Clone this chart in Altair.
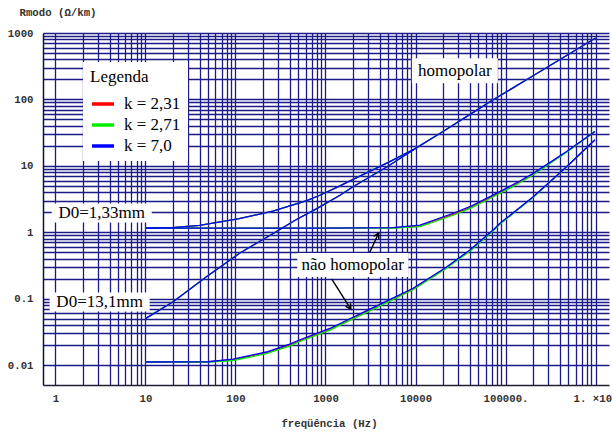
import altair as alt
import pandas as pd

# ---- series: frequency (Hz) and mode resistance (ohm/km) ----
K_LABELS = ["k = 2,31", "k = 2,71", "k = 7,0"]
K_COLORS = ["#ff0000", "#00f000", "#0000ff"]

# homopolar mode, D0 = 1,33 mm (the three k values coincide)
hom133_f = [10, 20, 40, 110, 260, 620, 865, 1320, 2000, 4800, 9700, 18600, 52000, 67000, 186000, 1000000]
hom133_r = [1.15, 1.17, 1.27, 1.6, 2.07, 3.0, 3.6, 4.7, 6.2, 11.0, 17.8, 30.7, 74, 92, 212, 841]

# homopolar mode, D0 = 13,1 mm (joins the curve above near 10 kHz)
hom131_f = [10, 20.3, 47.6, 111, 260, 455, 800, 1450, 2000, 4800, 9700]
hom131_r = [0.05, 0.0895, 0.213, 0.481, 0.95, 1.5, 2.27, 3.6, 4.8, 9.6, 17.8]

# non-homopolar mode, D0 = 1,33 mm
nh133_f = [10, 100, 1000, 5600, 11200, 26200, 40100, 61500, 94000, 144000, 203000, 476000, 982000]
nh133_r_231 = [1.15, 1.15, 1.15, 1.16, 1.24, 1.86, 2.33, 3.12, 4.18, 5.7, 7.5, 16.1, 32.6]
nh133_r_271 = [1.15, 1.15, 1.15, 1.15, 1.21, 1.80, 2.26, 3.03, 4.06, 5.55, 7.35, 16.0, 33.0]
nh133_r_70 = [1.15, 1.15, 1.15, 1.17, 1.28, 1.93, 2.42, 3.24, 4.33, 5.9, 7.7, 16.4, 32.8]

# non-homopolar mode, D0 = 13,1 mm
nh131_f = [10, 50, 94, 220, 400, 520, 1117, 1940, 2620, 9400, 22100, 40100, 72800, 86500, 203000, 476000, 982000]
nh131_r_231 = [0.0111, 0.0112, 0.0120, 0.0152, 0.0199, 0.0232, 0.0344, 0.0495, 0.060, 0.139, 0.292, 0.527, 1.06, 1.33, 3.38, 9.6, 24.5]
nh131_r_271 = [0.0111, 0.0111, 0.0117, 0.0148, 0.0193, 0.0226, 0.0335, 0.0482, 0.0585, 0.136, 0.286, 0.518, 1.05, 1.32, 3.36, 9.6, 24.6]
nh131_r_70 = [0.0111, 0.0112, 0.0123, 0.0157, 0.0206, 0.024, 0.0355, 0.051, 0.062, 0.143, 0.30, 0.54, 1.08, 1.36, 3.43, 9.7, 24.6]

series = {
    K_LABELS[0]: [("hom133", hom133_f, hom133_r), ("hom131", hom131_f, hom131_r),
                  ("nh133", nh133_f, nh133_r_231), ("nh131", nh131_f, nh131_r_231)],
    K_LABELS[1]: [("hom133", hom133_f, hom133_r), ("hom131", hom131_f, hom131_r),
                  ("nh133", nh133_f, nh133_r_271), ("nh131", nh131_f, nh131_r_271)],
    K_LABELS[2]: [("hom133", hom133_f, hom133_r), ("hom131", hom131_f, hom131_r),
                  ("nh133", nh133_f, nh133_r_70), ("nh131", nh131_f, nh131_r_70)],
}

rows = []
for k, curves in series.items():
    for name, fs, rs in curves:
        for i, (f, r) in enumerate(zip(fs, rs)):
            rows.append({"k": k, "curve": name, "seq": i, "f": f, "r": r})
df = pd.DataFrame(rows)

# ---- annotations ----
labels_df = pd.DataFrame([
    {"txt": "homopolar", "f": 27350, "r": 270, "box": "wide"},
    {"txt": "D0=1,33mm", "f": 3.27, "r": 1.95, "box": "d0"},
    {"txt": "D0=13,1mm", "f": 3.1, "r": 0.0886, "box": "d0"},
    {"txt": "não homopolar", "f": 2010, "r": 0.32, "box": "nh"},
])
arrows_df = pd.DataFrame([
    {"id": 1, "seq": 0, "f": 3105, "r": 0.50},
    {"id": 1, "seq": 1, "f": 3890, "r": 0.97},
    {"id": 2, "seq": 0, "f": 1175, "r": 0.197},
    {"id": 2, "seq": 1, "f": 1910, "r": 0.0694},
])
heads_df = pd.DataFrame([
    {"f": 3890, "r": 0.97, "ang": 27},
    {"f": 1910, "r": 0.0694, "ang": 148},
])

# ---- axes: a grid line at every 1..9 x 10^n, labels at decades ----
x_grid = [m * 10 ** e for e in range(0, 6) for m in range(1, 10)] + [10 ** 6]
y_grid = [m * 10.0 ** e for e in range(-2, 3) for m in range(1, 10)] + [1000]

MONO = "Liberation Mono"
SERIF = "Liberation Serif"
GRID = "#1b1b88"
is_decade = "abs(log(datum.value)/LN10 - round(log(datum.value)/LN10)) < 0.001"

x_axis = alt.Axis(
    values=x_grid, grid=True, gridColor=GRID, gridWidth=1.3, gridOpacity=1,
    ticks=False, domain=True, domainColor="#202030", domainWidth=1.5,
    labelExpr=("datum.value == 100000 ? '100000.' : datum.value == 1000000 ? '1. ×10⁶' : ("
               + is_decade + " ? format(datum.value, 'd') : '')"),
    labelFont=MONO, labelFontSize=10.7, labelFontWeight="bold", labelColor="#333",
    labelPadding=8, labelOverlap=False, labelFlush=False, labelBound=False,
    title="freqüência (Hz)", titleFont=MONO, titleFontSize=10.7, titleFontWeight="bold",
    titleColor="#333", titleX=286, titleY=38, titleBaseline="middle", titleAlign="center",
)
y_axis = alt.Axis(
    values=y_grid, grid=True, gridColor=GRID, gridWidth=1.3, gridOpacity=1,
    ticks=False, domain=True, domainColor="#101040", domainWidth=1.5,
    labelExpr="(" + is_decade + ") ? format(datum.value, '~g') : ''",
    labelFont=MONO, labelFontSize=10.7, labelFontWeight="bold", labelColor="#333",
    labelPadding=10, labelOverlap=False, labelFlush=False, labelBound=False,
    title="Rmodo (Ω/km)", titleFont=MONO, titleFontSize=10.7, titleFontWeight="bold",
    titleColor="#333", titleAngle=0, titleX=-24, titleY=-21, titleAlign="left",
    titleBaseline="middle",
)

xs = alt.Scale(type="log", domain=[0.728, 1.41e6], nice=False)
ys = alt.Scale(type="log", domain=[0.005, 1000], nice=False)


def X():
    return alt.X("f:Q", scale=xs, axis=x_axis)


def Y():
    return alt.Y("r:Q", scale=ys, axis=y_axis)


color = alt.Color(
    "k:N",
    scale=alt.Scale(domain=K_LABELS, range=K_COLORS),
    legend=alt.Legend(
        title="Legenda", orient="none", legendX=40, legendY=29, direction="vertical",
        fillColor="white", padding=7, titleFont=SERIF, titleFontSize=17,
        titleFontWeight="normal", titleColor="black", titlePadding=5,
        labelFont=SERIF, labelFontSize=17, labelColor="black", labelOffset=8,
        symbolType="stroke", symbolStrokeWidth=3.5, symbolSize=484, rowPadding=0,
    ),
)

# curves: one layer per k so the blue ones lie on top
curve_layers = [
    alt.Chart(df).transform_filter(alt.datum.k == k).mark_line(strokeWidth=1.3, clip=True).encode(
        x=X(), y=Y(), color=color, detail="curve:N", order="seq:Q"
    )
    for k in K_LABELS
]

box_sizes = {"wide": (86, 25), "d0": (100, 19), "nh": (111, 24)}
box_layers = [
    alt.Chart(labels_df).transform_filter(alt.datum.box == b)
    .mark_rect(width=w, height=h, color="white", opacity=1)
    .encode(x=X(), y=Y())
    for b, (w, h) in box_sizes.items()
]

text_layer = alt.Chart(labels_df).mark_text(
    font=SERIF, fontSize=17, color="black", align="center", baseline="middle"
).encode(x=X(), y=Y(), text="txt:N")

arrow_layer = alt.Chart(arrows_df).mark_line(color="black", strokeWidth=1.4).encode(
    x=X(), y=Y(), detail="id:N", order="seq:Q"
)
head_layer = alt.Chart(heads_df).mark_point(
    shape="M-0.55,1 L0,0 L0.55,1", size=110, filled=False, stroke="black", strokeWidth=1.5, opacity=1
).encode(x=X(), y=Y(), angle=alt.Angle("ang:Q", scale=None))

chart = alt.layer(*curve_layers, *box_layers, text_layer, arrow_layer, head_layer).properties(
    width=566, height=352, autosize="none",
    padding={"left": 43, "top": 33, "right": 3, "bottom": 47},
    background="white",
).configure_view(stroke=None)

chart.save("out.html", embed_options={"renderer": "svg", "actions": False})
